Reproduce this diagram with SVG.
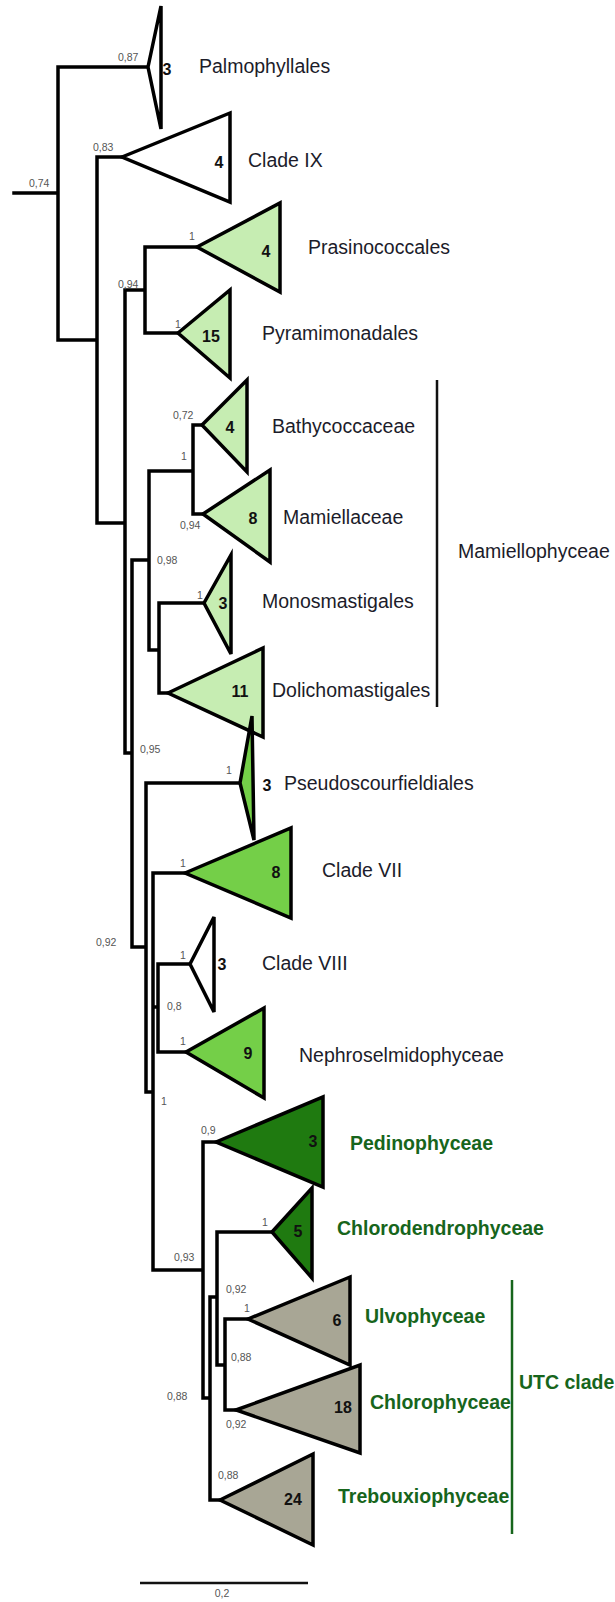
<svg xmlns="http://www.w3.org/2000/svg" width="615" height="1602" viewBox="0 0 615 1602">
<style>
.br{fill:none;stroke:#000;stroke-width:3.5;stroke-linecap:square;stroke-linejoin:miter}
.tri{stroke:#000;stroke-width:3.5;stroke-linejoin:miter}
.w{fill:#fff}.lg{fill:#c6edb2}.mg{fill:#74cf48}.dg{fill:#1f7a10}.gy{fill:#a8a695}
.cnt{font-family:"Liberation Sans",Arial,sans-serif;font-size:16px;font-weight:bold;fill:#111;text-anchor:middle}
.lbl{font-family:"Liberation Sans",Arial,sans-serif;font-size:19.5px;fill:#1c1c2a}
.glbl{font-family:"Liberation Sans",Arial,sans-serif;font-size:19.5px;font-weight:bold;fill:#17651c}
.bs{font-family:"Liberation Sans",Arial,sans-serif;font-size:10.5px;fill:#555}
</style>
<rect width="615" height="1602" fill="#fff"/>
<g id="connectors">
<path class="br" d="M14,193H58 M58,67V340 M58,67H150 M58,340H97 M97,157V523 M97,157H122 M97,523H125 M125,290V753 M125,290H145 M145,247V333 M145,247H197 M145,333H178 M125,753H132 M132,560V947 M132,560H149 M149,471V650 M149,471H193 M193,425V514 M193,425H202 M193,514H203 M149,650H159 M159,603V693 M159,603H204 M159,693H168 M132,947H146 M146,783V1092 M146,783H240 M146,1092H153 M153,873V1270 M153,873H185 M153,1007H158 M158,964V1052 M158,964H190 M158,1052H186 M153,1270H203 M203,1142V1398 M203,1142H216 M203,1398H210 M210,1297V1500 M210,1297H217 M210,1500H220 M217,1232V1365 M217,1232H272 M217,1365H225 M225,1319V1410 M225,1319H248 M225,1410H236"/>
</g>
<g id="bootstrap" class="bs">
<text x="29" y="187">0,74</text>
<text x="118" y="61">0,87</text>
<text x="93" y="151">0,83</text>
<text x="189" y="240">1</text>
<text x="118" y="288">0,94</text>
<text x="175" y="328">1</text>
<text x="173" y="419">0,72</text>
<text x="181" y="460">1</text>
<text x="180" y="529">0,94</text>
<text x="157" y="564">0,98</text>
<text x="197" y="599">1</text>
<text x="140" y="753">0,95</text>
<text x="226" y="774">1</text>
<text x="180" y="867">1</text>
<text x="96" y="946">0,92</text>
<text x="180" y="959">1</text>
<text x="167" y="1010">0,8</text>
<text x="180" y="1045">1</text>
<text x="161" y="1105">1</text>
<text x="201" y="1134">0,9</text>
<text x="262" y="1226">1</text>
<text x="174" y="1261">0,93</text>
<text x="226" y="1293">0,92</text>
<text x="244" y="1312">1</text>
<text x="231" y="1361">0,88</text>
<text x="167" y="1400">0,88</text>
<text x="226" y="1428">0,92</text>
<text x="218" y="1479">0,88</text>
</g>
<g id="palmophyllales"><polygon class="tri w" points="148,67 161,6 161,129"/><text class="cnt" x="167" y="75">3</text><text class="lbl" x="199" y="73">Palmophyllales</text></g>
<g id="cladeIX"><polygon class="tri w" points="122,157 230,113 230,202"/><text class="cnt" x="219" y="168">4</text><text class="lbl" x="248" y="167">Clade IX</text></g>
<g id="prasinococcales"><polygon class="tri lg" points="197,247 280,203 280,292"/><text class="cnt" x="266" y="257">4</text><text class="lbl" x="308" y="254">Prasinococcales</text></g>
<g id="pyramimonadales"><polygon class="tri lg" points="178,333 230,290 230,378"/><text class="cnt" x="211" y="342">15</text><text class="lbl" x="262" y="340">Pyramimonadales</text></g>
<g id="bathycoccaceae"><polygon class="tri lg" points="202,425 247,380 247,472"/><text class="cnt" x="230" y="433">4</text><text class="lbl" x="272" y="433">Bathycoccaceae</text></g>
<g id="mamiellaceae"><polygon class="tri lg" points="203,514 270,470 270,562"/><text class="cnt" x="253" y="524">8</text><text class="lbl" x="283" y="524">Mamiellaceae</text></g>
<g id="monosmastigales"><polygon class="tri lg" points="204,603 231,555 231,654"/><text class="cnt" x="223" y="609">3</text><text class="lbl" x="262" y="608">Monosmastigales</text></g>
<g id="dolichomastigales"><polygon class="tri lg" points="168,693 263,648 263,737"/><text class="cnt" x="240" y="697">11</text><text class="lbl" x="272" y="697">Dolichomastigales</text></g>
<g id="mamiellophyceae"><path d="M437,380V707" stroke="#111" stroke-width="2.5" fill="none"/><text class="lbl" x="458" y="558">Mamiellophyceae</text></g>
<g id="pseudoscourfieldiales"><polygon class="tri mg" points="240,783 252,716 254,840"/><text class="cnt" x="267" y="791">3</text><text class="lbl" x="284" y="790">Pseudoscourfieldiales</text></g>
<g id="cladeVII"><polygon class="tri mg" points="185,873 291,828 291,918"/><text class="cnt" x="276" y="878">8</text><text class="lbl" x="322" y="877">Clade VII</text></g>
<g id="cladeVIII"><polygon class="tri w" points="190,964 214,917 214,1012"/><text class="cnt" x="222" y="970">3</text><text class="lbl" x="262" y="970">Clade VIII</text></g>
<g id="nephroselmidophyceae"><polygon class="tri mg" points="186,1052 264,1008 264,1098"/><text class="cnt" x="248" y="1059">9</text><text class="lbl" x="299" y="1062">Nephroselmidophyceae</text></g>
<g id="pedinophyceae"><polygon class="tri dg" points="216,1142 323,1097 323,1187"/><text class="cnt" x="313" y="1147">3</text><text class="glbl" x="350" y="1150">Pedinophyceae</text></g>
<g id="chlorodendrophyceae"><polygon class="tri dg" points="272,1232 312,1188 312,1278"/><text class="cnt" x="298" y="1237">5</text><text class="glbl" x="337" y="1235">Chlorodendrophyceae</text></g>
<g id="ulvophyceae"><polygon class="tri gy" points="248,1319 350,1277 350,1365"/><text class="cnt" x="337" y="1326">6</text><text class="glbl" x="365" y="1323">Ulvophyceae</text></g>
<g id="chlorophyceae"><polygon class="tri gy" points="236,1410 360,1365 360,1453"/><text class="cnt" x="343" y="1413">18</text><text class="glbl" x="370" y="1409">Chlorophyceae</text></g>
<g id="trebouxiophyceae"><polygon class="tri gy" points="220,1500 313,1454 313,1545"/><text class="cnt" x="293" y="1505">24</text><text class="glbl" x="338" y="1503">Trebouxiophyceae</text></g>
<g id="utc-clade"><path d="M512,1280V1534" stroke="#17651c" stroke-width="2.5" fill="none"/><text class="glbl" x="519" y="1389">UTC clade</text></g>
<g id="scale-bar"><path d="M140,1583H308" stroke="#111" stroke-width="2.5" fill="none"/><text class="bs" x="222" y="1597" text-anchor="middle">0,2</text></g>
</svg>
